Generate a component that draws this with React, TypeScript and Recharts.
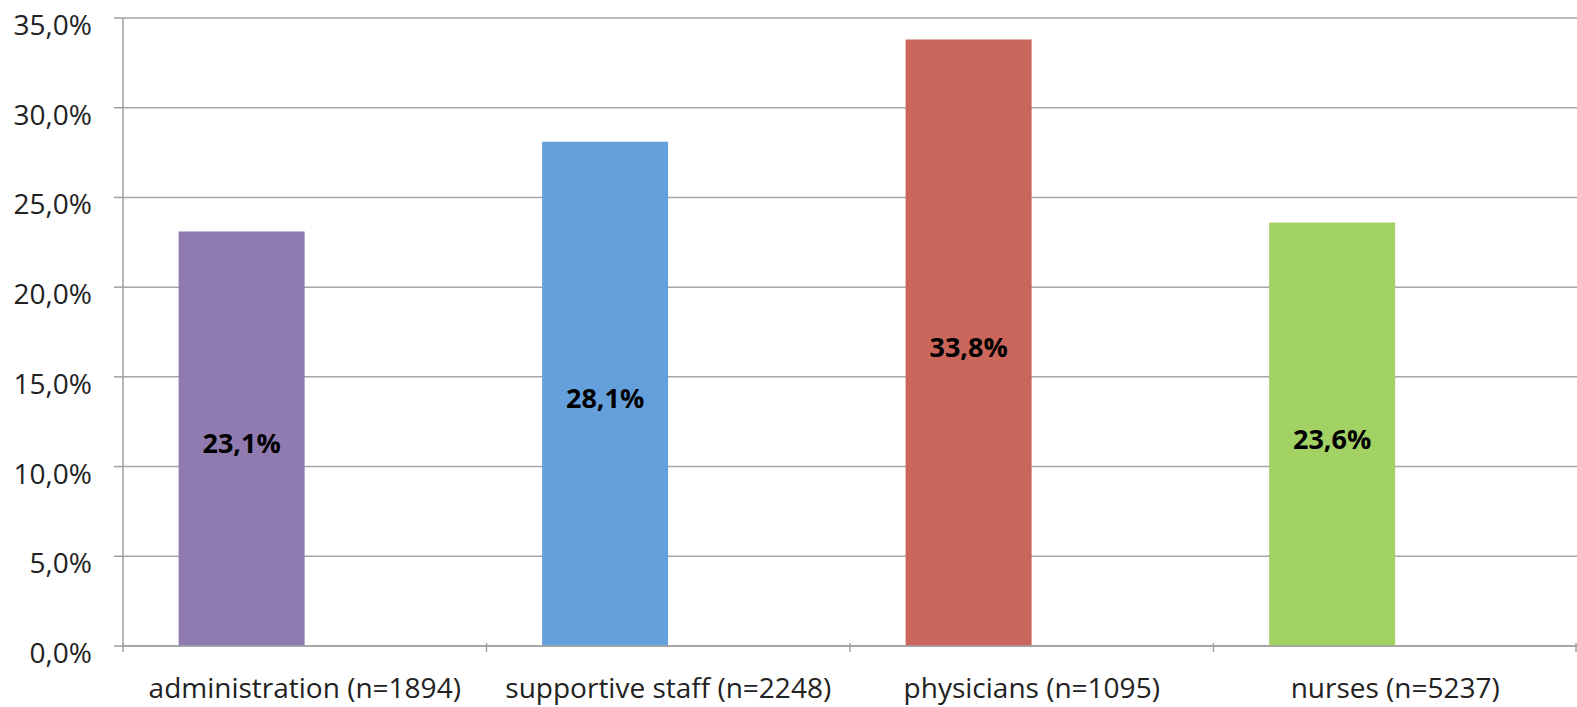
import React from 'react';
import { BarChart, Bar, XAxis, YAxis, CartesianGrid, Cell, LabelList } from 'recharts';

const categories = [
  'administration (n=1894)',
  'supportive staff (n=2248)',
  'physicians (n=1095)',
  'nurses (n=5237)',
];
const shares = [23.1, 28.1, 33.8, 23.6];
const barColors = ['#8F7BB0', '#66A0DC', '#CB665C', '#A2D164'];
const yTicks = [0, 5, 10, 15, 20, 25, 30, 35];

const data = categories.map((name, i) => ({ name, share: shares[i], empty: null }));

const W = 1577;
const H = 707;
const AXIS_W = 123;
const BAND = (W - AXIS_W) / categories.length;
const FONT = '"Open Sans", sans-serif';

const pct = (v: number) => v.toFixed(1).replace('.', ',') + '%';

// x labels centred on the category, tick marks on the category boundaries
const XTick = (props: any) => {
  const { x, y, payload, index } = props;
  const axisY = y - 11;
  const left = x - BAND / 2;
  return (
    <g>
      <line x1={left} y1={axisY} x2={left} y2={axisY + 9} stroke="#A0A0A0" strokeWidth={1.5} />
      {index === categories.length - 1 && (
        <line x1={x + BAND / 2 - 1} y1={axisY} x2={x + BAND / 2 - 1} y2={axisY + 9} stroke="#A0A0A0" strokeWidth={1.5} />
      )}
      <text x={x} y={axisY + 55} textAnchor="middle" fontSize={28} fontFamily={FONT} fill="#222">
        {payload.value}
      </text>
    </g>
  );
};

const YTick = (props: any) => {
  const { x, y, payload } = props;
  return (
    <text x={x} y={y + 17} textAnchor="end" fontSize={28} fontFamily={FONT} fill="#222">
      {pct(payload.value)}
    </text>
  );
};

export default function App() {
  return (
    <div style={{ position: 'absolute', left: 0, top: 0, background: '#fff' }}>
      <BarChart
        width={W}
        height={H}
        data={data}
        margin={{ top: 18, right: 0, bottom: 5, left: 0 }}
        barCategoryGap="15.3%"
        barGap={0}
      >
        <CartesianGrid horizontal vertical={false} stroke="#A6A6A6" strokeWidth={1.5} />
        <XAxis
          dataKey="name"
          height={56}
          axisLine={{ stroke: '#A0A0A0', strokeWidth: 1.5 }}
          tickLine={false}
          tick={<XTick />}
          interval={0}
        />
        <YAxis
          width={AXIS_W}
          domain={[0, 35]}
          ticks={yTicks}
          axisLine={{ stroke: '#A0A0A0', strokeWidth: 1.5 }}
          tickLine={{ stroke: '#A0A0A0', strokeWidth: 1.5 }}
          tickSize={9}
          tickMargin={22}
          tick={<YTick />}
        />
        <Bar dataKey="share" isAnimationActive={false}>
          {data.map((d, i) => (
            <Cell key={d.name} fill={barColors[i]} />
          ))}
          <LabelList
            dataKey="share"
            position="center"
            formatter={(v: any) => pct(Number(v))}
            style={{ fontFamily: FONT, fontSize: 27, fontWeight: 700, fill: '#000' }}
            dy={5}
          />
        </Bar>
        <Bar dataKey="empty" isAnimationActive={false} fill="transparent" />
      </BarChart>
    </div>
  );
}
